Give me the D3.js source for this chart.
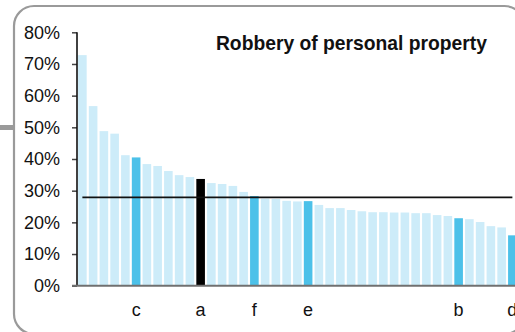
<!DOCTYPE html>
<html><head><meta charset="utf-8">
<script src="https://cdn.jsdelivr.net/npm/d3@7"></script>
<style>html,body{margin:0;padding:0;background:#fff;overflow:hidden}</style>
</head><body>
<svg id="chart" width="515" height="332"></svg>
<script>
// ---- data ----
const title = "Robbery of personal property";
const values = [72.8,56.7,48.8,48.0,41.2,40.5,38.4,37.8,36.2,34.9,34.3,33.7,32.4,32.1,31.5,29.6,28.3,27.5,27.4,26.8,26.6,26.7,25.5,24.5,24.5,23.9,23.5,23.2,23.2,23.1,23.1,22.9,22.9,22.3,22.0,21.3,21.0,20.1,18.8,18.4,15.9];
const labels = ["","","","","","c","","","","","","a","","","","","f","","","","","e","","","","","","","","","","","","","","b","","","","","d"];
const focusLabel = "a";
const average = 27.9;
const yTicks = [0,10,20,30,40,50,60,70,80];

// ---- layout ----
const svg = d3.select("#chart");
const font = "'Liberation Sans', Arial, sans-serif";
const x0 = 77, y0 = 285.7, yTop = 32.3, step = 10.75;
const ids = values.map((d,i)=>i);
const x = d3.scaleBand().domain(ids).range([x0, x0 + step*values.length]).paddingInner(0.2).paddingOuter(0.1);
const y = d3.scaleLinear().domain([0,80]).range([y0, yTop]);

// card frame
svg.append("rect").attr("x",0).attr("y",125).attr("width",14).attr("height",5).attr("fill","#9a9a9a");
svg.append("rect").attr("x",14).attr("y",6).attr("width",510.5).attr("height",328)
  .attr("rx",20).attr("ry",20).attr("fill","#fff").attr("stroke","#9a9a9a").attr("stroke-width",2.2);

// bars
svg.append("g").selectAll("rect").data(values).join("rect")
  .attr("x",(d,i)=>x(i)).attr("width",x.bandwidth())
  .attr("y",d=>y(d)).attr("height",d=>y0 - y(d))
  .attr("fill",(d,i)=> labels[i]===focusLabel ? "#000" : (labels[i] ? "#4cc1e9" : "#cdecf9"));

// average line
svg.append("line")
  .attr("x1", x(0)+x.bandwidth()/2).attr("x2", x(values.length-1)+x.bandwidth()/2)
  .attr("y1", y(average)).attr("y2", y(average))
  .attr("stroke","#111").attr("stroke-width",1.6);

// y axis
const yAxis = svg.append("g").attr("transform",`translate(${x0},0)`)
  .call(d3.axisLeft(y).tickValues(yTicks).tickFormat(d=>d+"%").tickSize(5).tickPadding(12));
yAxis.select(".domain").remove();
yAxis.selectAll(".tick line").attr("stroke","#444").attr("stroke-width",1.5);
yAxis.selectAll(".tick text").attr("font-family",font).attr("font-size",18).attr("fill","#111");
svg.append("line").attr("x1",x0).attr("x2",x0).attr("y1",yTop).attr("y2",y0)
  .attr("stroke","#111").attr("stroke-width",1.6);

// x axis baseline
svg.append("line").attr("x1",72).attr("x2",520).attr("y1",y0).attr("y2",y0)
  .attr("stroke","#707070").attr("stroke-width",2);

// x labels
svg.append("g").selectAll("text").data(ids.filter(i=>labels[i])).join("text")
  .attr("x",i=>x(i)+x.bandwidth()/2).attr("y",316)
  .attr("text-anchor","middle").attr("font-family",font).attr("font-size",18).attr("fill","#111")
  .text(i=>labels[i]);

// title
svg.append("text").attr("x",487).attr("y",50).attr("text-anchor","end")
  .attr("font-family",font).attr("font-weight","bold").attr("font-size",19.3).attr("fill","#111")
  .text(title);
</script>
</body></html>
